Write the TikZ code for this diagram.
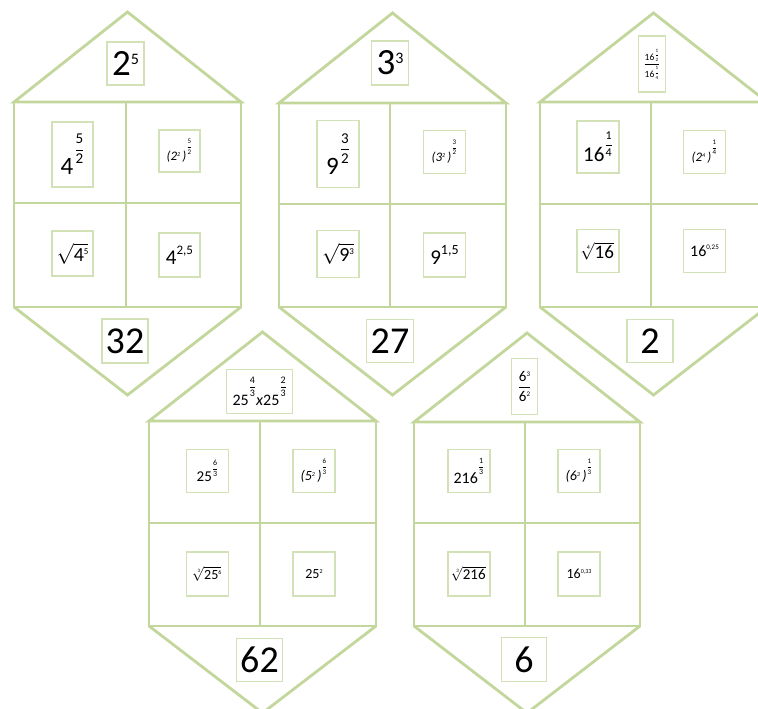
\documentclass[tikz,border=0pt]{standalone}
\usepackage{amsmath}
\usepackage{fontspec}
\setmainfont{Carlito}
\definecolor{hc}{HTML}{C3D69B}
\definecolor{bc}{HTML}{D3E1B6}
\newcommand\fs[1]{\fontsize{#1}{#1}\selectfont}
\newcommand\fr[4][0.5pt]{{\fs{#2}$\genfrac{}{}{#1}{0}{\hbox{#3}}{\hbox{#4}}$}}
\newcommand\up[2]{\raisebox{#1}{#2}}
\newcommand\house[9]{%
  \coordinate (#1rl) at (#2,#6);
  \coordinate (#1rr) at (#3,#6);
  \coordinate (#1ap) at ({(#2+#3)/2},#5);
  \coordinate (#1bl) at (#2,#8);
  \coordinate (#1br) at (#3,#8);
  \coordinate (#1bp) at ({(#2+#3)/2},#9);
  \draw[hl] (#1rl) -- (#1ap) -- (#1rr) -- cycle;
  \draw[hl] (#1rl) rectangle (#1br);
  \draw[hl] (#4,#6) -- (#4,#8);
  \draw[hl] (#2,#7) -- (#3,#7);
  \draw[hl] (#1bl) -- (#1bp) -- (#1br);
}
\tikzset{
  hl/.style={draw=hc,line width=2.8pt,line join=miter},
  lab/.style={draw=bc,line width=1.4pt,fill=white,inner sep=0pt,text=black,align=center},
}
\begin{document}
\begin{tikzpicture}[x=1pt,y=-1pt]
\path[use as bounding box] (0,0) rectangle (758,709);
\clip (0,0) rectangle (758,709);
\fill[white] (0,0) rectangle (758,709);
\house{h1}{14}{241}{126}{12}{102}{203}{307}{395}
\house{h2}{279}{506}{390}{13}{103}{204}{307}{395}
\house{h3}{540}{767}{651}{13}{102}{204}{307}{395}
\house{h4}{149}{376}{260}{332}{421}{523}{626}{713}
\house{h5}{414}{640}{525}{333}{422}{523}{626}{713}
% house 1
\node[lab,minimum width=37pt,minimum height=43pt] (h1t) at (125.5,63.5) {\fs{37}2\up{11pt}{\fs{16}5}};
\node[lab,minimum width=41pt,minimum height=65pt] (h1a) at (72.5,154.5) {\fs{25}4\kern1pt\up{21pt}{\fr[0.8pt]{15}{5}{2}}};
\node[lab,minimum width=41pt,minimum height=42pt] (h1b) at (179.5,151) {\fs{13}\textit{(2\up{4pt}{\fs{6}2}\,)}\up{12pt}{\fr[0.4pt]{7}{5}{2}}};
\node[lab,minimum width=41pt,minimum height=45pt] (h1c) at (72.5,253.5) {\fs{20}$\sqrt{\hbox{4\up{7pt}{\fs{9}5}}}$};
\node[lab,minimum width=41pt,minimum height=44pt] (h1d) at (179.5,255) {\fs{21}4\up{10pt}{\fs{13}2,5}};
\node[lab,minimum width=46pt,minimum height=44pt] (h1n) at (125,341) {\fs{38}32};
% house 2
\node[lab,minimum width=37pt,minimum height=44pt] (h2t) at (390,63) {\fs{37}3\up{11pt}{\fs{16}3}};
\node[lab,minimum width=42pt,minimum height=67pt] (h2a) at (338,154) {\fs{25}9\kern1pt\up{21pt}{\fr[0.8pt]{15}{3}{2}}};
\node[lab,minimum width=42pt,minimum height=43pt] (h2b) at (444.5,151.7) {\fs{13}\textit{(3\up{4pt}{\fs{6}2}\,)}\up{12pt}{\fr[0.4pt]{7}{3}{2}}};
\node[lab,minimum width=42pt,minimum height=47pt] (h2c) at (338,254) {\fs{20}$\sqrt{\hbox{9\up{7pt}{\fs{9}3}}}$};
\node[lab,minimum width=42pt,minimum height=44pt] (h2d) at (444.5,255) {\fs{21}9\up{10pt}{\fs{14}1,5}};
\node[lab,minimum width=47pt,minimum height=43pt] (h2n) at (390,341) {\fs{38}27};
% house 3
\node[lab,minimum width=27pt,minimum height=56pt] (h3t) at (652,64) {\fs{9.5}$\genfrac{}{}{0.6pt}{0}{\hbox{16\up{3.5pt}{\fr[0.3pt]{5}{1}{2}}}}{\hbox{16\up{3.5pt}{\fr[0.3pt]{5}{1}{4}}}}$};
\node[lab,minimum width=42pt,minimum height=52pt] (h3a) at (598,147) {\fs{21}16\up{14pt}{\fr[0.6pt]{12}{1}{4}}};
\node[lab,minimum width=42pt,minimum height=43pt] (h3b) at (704.5,151.7) {\fs{13}\textit{(2\up{4pt}{\fs{6}4}\,)}\up{12pt}{\fr[0.4pt]{7}{1}{4}}};
\node[lab,minimum width=42pt,minimum height=43pt] (h3c) at (598,251) {\fs{19}$\sqrt[\hbox{\fs{6}4}]{\hbox{16}}$};
\node[lab,minimum width=42pt,minimum height=43pt] (h3d) at (704.5,251) {\fs{16}16\up{7pt}{\fs{7}0,25}};
\node[lab,minimum width=46pt,minimum height=43pt] (h3n) at (650,341) {\fs{38}2};
% house 4
\node[lab,minimum width=66pt,minimum height=44pt] (h4t) at (259.7,391.3) {\fs{16}25\up{16pt}{\fr[0.4pt]{10}{4}{3}}\textit{x}25\up{16pt}{\fr[0.4pt]{10}{2}{3}}};
\node[lab,minimum width=42pt,minimum height=43pt] (h4a) at (207.5,471) {\fs{15}25\up{11pt}{\fr[0.3pt]{8}{6}{3}}};
\node[lab,minimum width=42pt,minimum height=43pt] (h4b) at (314,471) {\fs{14}\textit{(5\up{4pt}{\fs{6}2}\,)}\up{12pt}{\fr[0.4pt]{7}{6}{3}}};
\node[lab,minimum width=42pt,minimum height=44pt] (h4c) at (207.5,574) {\fs{14}$\sqrt[\hbox{\fs{5}3}]{\hbox{25\up{5pt}{\fs{6}6}}}$};
\node[lab,minimum width=42pt,minimum height=44pt] (h4d) at (314,574) {\fs{14}25\up{5pt}{\fs{6}2}};
\node[lab,minimum width=46pt,minimum height=43pt] (h4n) at (259.5,660) {\fs{38}62};
% house 5
\node[lab,minimum width=26pt,minimum height=56pt] (h5t) at (524.5,386.3) {\fs{15}$\genfrac{}{}{0.6pt}{0}{\hbox{6\up{5pt}{\fs{7}3}}}{\hbox{6\up{5pt}{\fs{7}2}}}$};
\node[lab,minimum width=42pt,minimum height=43pt] (h5a) at (469,471) {\fs{16}216\up{15pt}{\fr[0.4pt]{8}{1}{3}}};
\node[lab,minimum width=42pt,minimum height=43pt] (h5b) at (579,471) {\fs{14}\textit{(6\up{4pt}{\fs{6}3}\,)}\up{12pt}{\fr[0.4pt]{7}{1}{3}}};
\node[lab,minimum width=42pt,minimum height=44pt] (h5c) at (469,574) {\fs{15}$\sqrt[\hbox{\fs{5}3}]{\hbox{216}}$};
\node[lab,minimum width=42pt,minimum height=44pt] (h5d) at (579,574) {\fs{14}16\up{5pt}{\fs{6}0,33}};
\node[lab,minimum width=45pt,minimum height=44pt] (h5n) at (524,659.5) {\fs{38}6};
\end{tikzpicture}
\end{document}
